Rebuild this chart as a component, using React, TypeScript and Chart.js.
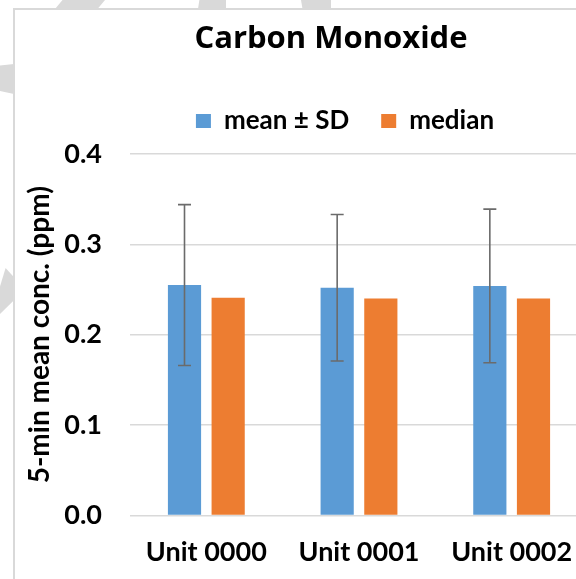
import React, { useEffect, useRef } from "react";
import { Chart, registerables } from "chart.js";

Chart.register(...registerables);

const categories = ["Unit 0000", "Unit 0001", "Unit 0002"];
const meanValues = [0.255, 0.252, 0.254];
const sdValues = [0.089, 0.081, 0.085];
const medianValues = [0.241, 0.240, 0.240];
const yTickValues = [0, 0.1, 0.2, 0.3, 0.4];
const seriesLabels = ["mean \u00b1 SD", "median"];

const FONT = "Lato, 'Open Sans', sans-serif";
const TITLE_FONT = "'Open Sans', Lato, sans-serif";

const errorBarPlugin = {
  id: "errorBars",
  afterDatasetsDraw(chart: any) {
    const meta = chart.getDatasetMeta(0);
    const y = chart.scales.y;
    const ctx = chart.ctx;
    ctx.save();
    ctx.strokeStyle = "#6b6b6b";
    ctx.lineWidth = 1.6;
    meta.data.forEach((bar: any, i: number) => {
      const x = bar.x;
      const top = y.getPixelForValue(meanValues[i] + sdValues[i]);
      const bot = y.getPixelForValue(meanValues[i] - sdValues[i]);
      ctx.beginPath();
      ctx.moveTo(x, top);
      ctx.lineTo(x, bot);
      ctx.moveTo(x - 6.5, top);
      ctx.lineTo(x + 6.5, top);
      ctx.moveTo(x - 6.5, bot);
      ctx.lineTo(x + 6.5, bot);
      ctx.stroke();
    });
    ctx.restore();
  },
};

const legendShiftPlugin = {
  id: "legendShift",
  afterLayout(chart: any) {
    if (chart.legend) {
      chart.legend.left += 14;
      chart.legend.right += 14;
    }
  },
};

export default function App() {
  const ref = useRef<HTMLCanvasElement>(null);
  useEffect(() => {
    if (!ref.current) return;
    const chart = new Chart(ref.current, {
      type: "bar",
      data: {
        labels: categories,
        datasets: [
          {
            label: seriesLabels[0],
            data: meanValues,
            backgroundColor: "#5b9bd5",
            categoryPercentage: 0.572,
            barPercentage: 0.76,
          },
          {
            label: seriesLabels[1],
            data: medianValues,
            backgroundColor: "#ed7d31",
            categoryPercentage: 0.572,
            barPercentage: 0.76,
          },
        ],
      },
      options: {
        responsive: false,
        animation: false,
        layout: { padding: { left: 0, right: 0, top: 0, bottom: 10.1 } },
        plugins: {
          title: {
            display: true,
            text: "Carbon Monoxide",
            color: "#000",
            font: { family: TITLE_FONT, size: 31, weight: "bold" },
            padding: { top: 20.5, bottom: 18.3 },
          },
          legend: {
            display: true,
            position: "top",
            labels: {
              boxWidth: 15,
              boxHeight: 14,
              padding: 32,
              color: "#000",
              font: { family: FONT, size: 26, weight: "bold" },
            },
          },
          tooltip: { enabled: false },
        },
        scales: {
          x: {
            grid: { display: false, drawTicks: false },
            border: { display: false },
            ticks: {
              color: "#000",
              padding: 21,
              maxRotation: 0,
              font: { family: FONT, size: 27, weight: "bold" },
            },
            afterFit: (s: any) => {
              s.height = 53.4;
            },
          },
          xTop: {
            type: "category",
            position: "top",
            labels: categories,
            grid: { display: false, drawTicks: false },
            border: { display: false },
            ticks: { display: false },
            afterFit: (s: any) => {
              s.height = 10;
            },
          },
          y: {
            min: 0,
            max: 0.4,
            afterBuildTicks: (s: any) => {
              s.ticks = yTickValues.map((v) => ({ value: v }));
            },
            afterFit: (s: any) => {
              s.width = 130;
            },
            grid: { color: "#d9d9d9", lineWidth: 1.5, drawTicks: false },
            border: { display: false },
            ticks: {
              color: "#000",
              padding: 28,
              font: { family: FONT, size: 27, weight: "bold" },
              callback: (v: any) => Number(v).toFixed(1),
            },
            title: {
              display: true,
              text: "5-min mean conc. (ppm)",
              color: "#000",
              font: { family: FONT, size: 28, weight: "bold" },
              padding: { top: 22.7, bottom: 0 },
            },
          },
          yRight: {
            type: "linear",
            position: "right",
            min: 0,
            max: 0.4,
            grid: { display: false, drawTicks: false },
            border: { display: false },
            ticks: { display: false },
            afterFit: (s: any) => {
              s.width = 74;
            },
          },
        },
      } as any,
      plugins: [errorBarPlugin, legendShiftPlugin],
    });
    return () => chart.destroy();
  }, []);

  const swoosh = (style: React.CSSProperties, clip: string) => (
    <div
      style={{
        position: "absolute",
        background: "#d9d9d9",
        clipPath: clip,
        ...style,
      }}
    />
  );

  return (
    <div
      style={{
        position: "fixed",
        left: 0,
        top: 0,
        width: 576,
        height: 579,
        overflow: "hidden",
        background: "#fff",
      }}
    >
      {swoosh({ left: 55, top: 0, width: 50, height: 9 }, "polygon(15% 0, 100% 0, 85% 100%, 0 100%)")}
      {swoosh({ left: 198, top: 0, width: 28, height: 9 }, "polygon(5% 0, 100% 0, 100% 100%, 0 100%)")}
      {swoosh({ left: 301, top: 0, width: 30, height: 9 }, "polygon(0 0, 100% 0, 100% 100%, 5% 100%)")}
      {swoosh({ left: 0, top: 64, width: 14, height: 30 }, "polygon(0 5%, 100% 0, 100% 100%, 0 90%)")}
      {swoosh({ left: 0, top: 268, width: 14, height: 46 }, "polygon(0 40%, 40% 0, 100% 20%, 100% 70%, 0 100%)")}
      <div
        style={{
          position: "absolute",
          left: 13,
          top: 8,
          width: 700,
          height: 700,
          background: "#fff",
          borderLeft: "2px solid #d9d9d9",
          borderTop: "2px solid #d9d9d9",
        }}
      />
      <canvas
        ref={ref}
        width={662}
        height={579}
        style={{ position: "absolute", left: 0, top: 0, width: 662, height: 579 }}
      />
    </div>
  );
}
